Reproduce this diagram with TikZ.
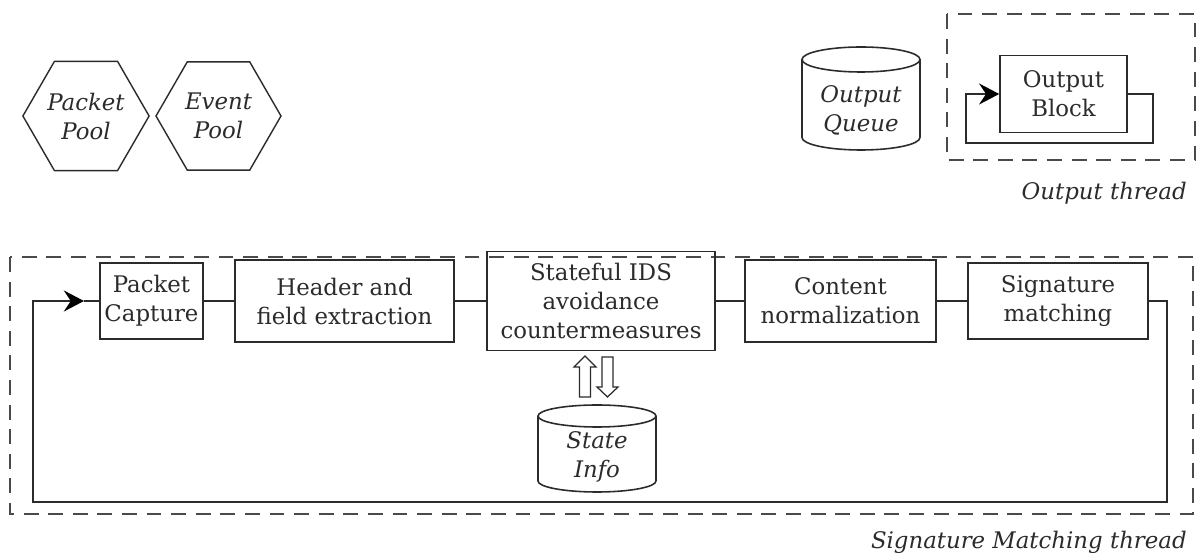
\documentclass[tikz,border=0pt]{standalone}
\usepackage{fontspec}
\setmainfont{DejaVu Serif}
\usetikzlibrary{shapes.geometric,arrows.meta}
\definecolor{ink}{HTML}{2B2B2B}
\definecolor{dashink}{HTML}{4A4A4A}
\begin{document}
\begin{tikzpicture}[x=0.02cm,y=-0.02cm,
  every node/.style={font=\fontsize{13}{16.5}\selectfont, text=ink, align=center, inner sep=0pt},
  block/.style={draw=ink, line width=0.9pt, rectangle},
  pool/.style={draw=ink, line width=0.8pt, regular polygon, regular polygon sides=6,
               minimum size=2.5cm, font=\fontsize{13}{16.5}\selectfont\itshape},
  flow/.style={draw=ink, line width=0.9pt},
  tip/.style={-{Stealth[length=11.5pt,width=12pt,inset=4pt,color=black]}},
  thread/.style={draw=dashink, line width=1pt, dash pattern=on 8.5pt off 5.5pt},
  threadlabel/.style={font=\fontsize{13}{16}\selectfont\itshape, anchor=east},
  hollow/.style={draw=ink, line width=0.7pt, fill=white},
  cyl/.style={draw=ink, line width=0.9pt}
]
\useasboundingbox (0,0) rectangle (1198,553);

% ---- resource pools ----
\node[pool] (ppool) at (86,116) {Packet\\Pool};
\node[pool] (epool) at (218.5,116) {Event\\Pool};

% ---- output queue (cylinder) ----
\draw[cyl] (802,59.5) -- (802,137.5)
  arc[start angle=180,end angle=360,x radius=1.18cm,y radius=0.25cm] -- (920,59.5);
\draw[cyl] (861,59.5) ellipse[x radius=1.18cm,y radius=0.25cm];
\node[font=\fontsize{13}{16.5}\selectfont\itshape] (oq) at (861,110) {Output\\Queue};

% ---- output thread ----
\draw[thread] (947,14) rectangle (1195,160);
\node[block, minimum width=2.54cm, minimum height=1.54cm] (ob) at (1063.5,94) {Output\\Block};
\coordinate (obr) at (1153,94);
\coordinate (obb) at (1153,143);
\coordinate (obl) at (966,143);
\coordinate (obt) at (966,94);
\draw[flow, tip] (ob.east) -- (obr) -- (obb) -- (obl) -- (obt) -- (ob.west);
\node[threadlabel] (otl) at (1187,193) {Output thread};

% ---- signature matching thread ----
\draw[thread] (10,257) rectangle (1193,514);

\node[block, minimum width=2.06cm, minimum height=1.52cm] (pc) at (151.5,301) {Packet\\Capture};
\node[block, minimum width=4.38cm, minimum height=1.64cm] (hf) at (344.5,301) {Header and\\field extraction};
\node[block, minimum width=4.56cm, minimum height=1.98cm] (st) at (601,301) {Stateful IDS\\avoidance\\countermeasures};
\node[block, minimum width=3.82cm, minimum height=1.64cm] (cn) at (840.5,301) {Content\\normalization};
\node[block, minimum width=3.60cm, minimum height=1.52cm] (sm) at (1058,301) {Signature\\matching};

\draw[flow] (pc.east) -- (hf.west);
\draw[flow] (hf.east) -- (st.west);
\draw[flow] (st.east) -- (cn.west);
\draw[flow] (cn.east) -- (sm.west);

% feedback loop back to packet capture
\coordinate (lr) at (1167,301);
\coordinate (lrb) at (1167,502);
\coordinate (llb) at (33,502);
\coordinate (ll) at (33,301);
\coordinate (lin) at (84,301);
\draw[flow, tip] (sm.east) -- (lr) -- (lrb) -- (llb) -- (ll) -- (lin);
\draw[flow] (lin) -- (pc.west);

% ---- state store ----
\draw[cyl] (538,416) -- (538,481)
  arc[start angle=180,end angle=360,x radius=1.18cm,y radius=0.22cm] -- (656,416);
\draw[cyl] (597,416) ellipse[x radius=1.18cm,y radius=0.22cm];
\node[font=\fontsize{13}{16.5}\selectfont\itshape] (si) at (597,457) {State\\Info};

% hollow read/write arrows between the stage and the state store
\draw[hollow] (579.5,397) -- (579.5,367) -- (574,367) -- (585,356) -- (596,367) -- (590.5,367) -- (590.5,397) -- cycle;
\draw[hollow] (602,357) -- (613,357) -- (613,387) -- (618,387) -- (607.5,397) -- (597,387) -- (602,387) -- cycle;

\node[threadlabel] (sml) at (1187,542) {Signature Matching thread};
\end{tikzpicture}
\end{document}
